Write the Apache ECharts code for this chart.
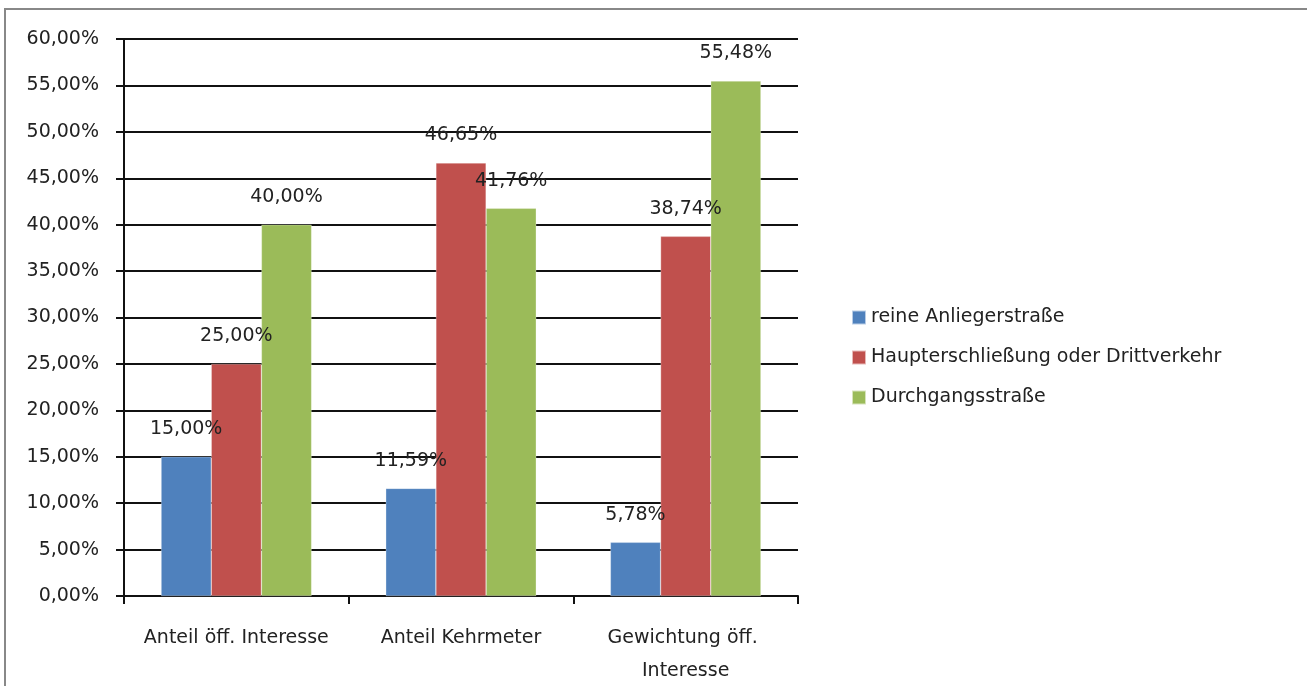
<!DOCTYPE html>
<html><head><meta charset="utf-8">
<script src="https://cdn.jsdelivr.net/npm/echarts@6/dist/echarts.min.js"></script>
<style>html,body{margin:0;padding:0;background:#fff}#c{width:1307px;height:686px}</style>
</head><body><div id="c"></div>
<script>
var categories = ['Anteil öff. Interesse', 'Anteil Kehrmeter', 'Gewichtung öff. Interesse'];
var seriesNames = ['reine Anliegerstraße', 'Haupterschließung oder Drittverkehr', 'Durchgangsstraße'];
var anlieger = [15.00, 11.59, 5.78];
var haupt = [25.00, 46.65, 38.74];
var durchgang = [40.00, 41.76, 55.48];
var colors = ['#4F81BD', '#C0504D', '#9BBB59'];

var FONT = 'DejaVu Sans';
var fmt = function (v) { return v.toFixed(2).replace('.', ',') + '%'; };
function mk(name, data, color) {
  return {
    name: name, type: 'bar', data: data, barGap: '0%', barCategoryGap: '33%',
    itemStyle: { color: color, borderColor: 'rgba(255,255,255,0.6)', borderWidth: 0.5 },
    label: { show: true, position: 'top', distance: 18, color: '#222', fontFamily: FONT, fontSize: 19,
      formatter: function (p) { return fmt(p.value); } }
  };
}
var chart = echarts.init(document.getElementById('c'));
chart.setOption({
  animation: false,
  backgroundColor: '#fff',
  graphic: [{ type: 'rect', shape: { x: 5, y: 9, width: 1400, height: 800 }, style: { fill: 'none', stroke: '#888', lineWidth: 2 }, silent: true }],
  grid: { left: 124, right: 509, top: 39, bottom: 90, outerBoundsMode: 'none', containLabel: false },
  legend: {
    orient: 'vertical', left: 846, top: 303, itemWidth: 14, itemHeight: 14, itemGap: 21,
    icon: 'rect', textStyle: { fontFamily: FONT, fontSize: 19, color: '#222' },
    data: seriesNames
  },
  xAxis: {
    type: 'category', data: categories,
    axisLine: { lineStyle: { color: '#111', width: 2 } },
    axisTick: { show: true, interval: 0, length: 8, lineStyle: { color: '#111', width: 2 } },
    axisLabel: { interval: 0, margin: 26, fontFamily: FONT, fontSize: 19, color: '#222', lineHeight: 33, width: 224, overflow: 'break' }
  },
  yAxis: {
    type: 'value', min: 0, max: 60, interval: 5,
    axisLine: { show: true, lineStyle: { color: '#111', width: 2 } },
    axisTick: { show: true, length: 8, lineStyle: { color: '#111', width: 2 } },
    splitLine: { lineStyle: { color: '#111', width: 2 } },
    axisLabel: { margin: 25, fontFamily: FONT, fontSize: 19, color: '#222', formatter: function (v) { return fmt(v); } }
  },
  series: [mk(seriesNames[0], anlieger, colors[0]), mk(seriesNames[1], haupt, colors[1]), mk(seriesNames[2], durchgang, colors[2])]
});
</script></body></html>
